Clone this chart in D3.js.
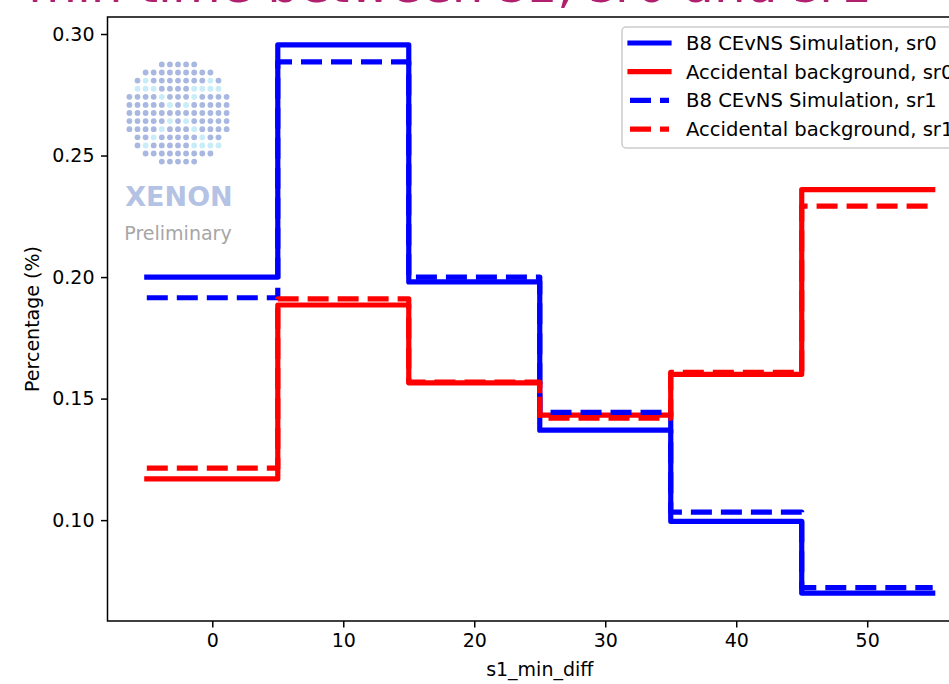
<!DOCTYPE html>
<html>
<head>
<meta charset="utf-8">
<script src="https://cdn.jsdelivr.net/npm/d3@7"></script>
<style>
  body { margin: 0; background: #fff; }
  text { font-family: "DejaVu Sans", sans-serif; }
</style>
</head>
<body>
<svg id="chart" width="949" height="684"></svg>
<script>
'use strict';

// bin edges of s1_min_diff and the four step histograms
var binEdges = [-5, 5, 15, 25, 35, 45, 55];
var xTicks = [0, 10, 20, 30, 40, 50];
var yTicks = [0.10, 0.15, 0.20, 0.25, 0.30];

var b8Sr0 = [0.200, 0.2955, 0.198, 0.137, 0.0995, 0.070];
var accSr0 = [0.117, 0.1885, 0.1565, 0.1432, 0.160, 0.236];
var b8Sr1 = [0.1915, 0.2885, 0.200, 0.1443, 0.1033, 0.0722];
var accSr1 = [0.1214, 0.191, 0.1568, 0.142, 0.1608, 0.2292];

var seriesNames = [
  'B8 CEvNS Simulation, sr0',
  'Accidental background, sr0',
  'B8 CEvNS Simulation, sr1',
  'Accidental background, sr1'
];

var axLeft = 107.5, axRight = 972, axTop = 17, axBottom = 621;
var fontSize = 19;

var svg = d3.select('#chart');

var x = d3.scaleLinear().domain([-8, 58]).range([axLeft, axRight]);
var y = d3.scaleLinear().domain([0.0585, 0.307]).range([axBottom, axTop]);

// cropped title at the very top (only the bottom of the glyphs shows)
svg.append('text')
  .attr('x', 450)
  .attr('y', 2)
  .attr('text-anchor', 'middle')
  .style('font-size', '50px')
  .style('fill', '#b0206e')
  .text('min time between s1, sr0 and sr1');

svg.append('defs').append('clipPath').attr('id', 'plotClip')
  .append('rect')
  .attr('x', axLeft).attr('y', axTop)
  .attr('width', axRight - axLeft).attr('height', axBottom - axTop);

// XENON logo watermark
var logo = svg.append('g').attr('class', 'logo');
var cx = 178, cy = 113, step = 8.1;
for (var i = -6; i <= 6; i++) {
  for (var j = -6; j <= 6; j++) {
    var dx = j * step, dy = i * step;
    if (Math.sqrt(dx * dx + dy * dy) > 52) continue;
    var light = (Math.abs(Math.abs(i) - Math.abs(j)) === 0 && Math.abs(i) >= 1 && Math.abs(i) <= 4) ||
      (i === -3 && j <= -3) || (i === 4 && j >= 2) || (i === -3 && j >= 2);
    logo.append('circle')
      .attr('cx', cx + dx)
      .attr('cy', cy + dy)
      .attr('r', 2.9)
      .style('fill', light ? '#c8ecf8' : '#a9b8e0');
  }
}
logo.append('text')
  .attr('x', 179).attr('y', 206)
  .attr('text-anchor', 'middle')
  .style('font-size', '27px')
  .style('font-weight', 'bold')
  .style('fill', '#b4c2e4')
  .text('XENON');
logo.append('text')
  .attr('x', 178).attr('y', 240)
  .attr('text-anchor', 'middle')
  .style('font-size', '19px')
  .style('fill', '#a6a6a6')
  .text('Preliminary');

// histogram steps
var series = [
  { vals: b8Sr0, color: '#0000ff', dash: null },
  { vals: accSr0, color: '#ff0000', dash: null },
  { vals: b8Sr1, color: '#0000ff', dash: '21,9' },
  { vals: accSr1, color: '#ff0000', dash: '21,9' }
];

var stepLine = d3.line()
  .x(function (d) { return x(d[0]); })
  .y(function (d) { return y(d[1]); })
  .curve(d3.curveStepAfter);

var plot = svg.append('g').attr('clip-path', 'url(#plotClip)');

series.forEach(function (s) {
  var pts = s.vals.map(function (v, k) { return [binEdges[k], v]; });
  pts.push([binEdges[binEdges.length - 1], s.vals[s.vals.length - 1]]);
  plot.append('path')
    .attr('d', stepLine(pts))
    .style('fill', 'none')
    .style('stroke', s.color)
    .style('stroke-width', 5.2)
    .style('stroke-linejoin', 'round')
    .style('stroke-linecap', s.dash ? 'butt' : 'square')
    .style('stroke-dasharray', s.dash);
});

// axes
var xAxis = svg.append('g')
  .attr('transform', 'translate(0,' + axBottom + ')')
  .call(d3.axisBottom(x).tickValues(xTicks).tickSize(6.5).tickPadding(6)
    .tickFormat(d3.format('d')));
var yAxis = svg.append('g')
  .attr('transform', 'translate(' + axLeft + ',0)')
  .call(d3.axisLeft(y).tickValues(yTicks).tickSize(6.5).tickPadding(6.5)
    .tickFormat(d3.format('.2f')));

[xAxis, yAxis].forEach(function (a) {
  a.select('.domain').remove();
  a.selectAll('line').style('stroke', '#000').style('stroke-width', 1.5);
  a.selectAll('text').style('font-size', fontSize + 'px')
    .style('font-family', '"DejaVu Sans", sans-serif').style('fill', '#000');
});

// spines
svg.append('rect')
  .attr('x', axLeft).attr('y', axTop)
  .attr('width', axRight - axLeft).attr('height', axBottom - axTop)
  .style('fill', 'none').style('stroke', '#000').style('stroke-width', 1.5);

// axis labels
svg.append('text')
  .attr('x', (axLeft + axRight) / 2).attr('y', 676)
  .attr('text-anchor', 'middle')
  .style('font-size', fontSize + 'px')
  .text('s1_min_diff');
svg.append('text')
  .attr('transform', 'translate(39,' + ((axTop + axBottom) / 2) + ') rotate(-90)')
  .attr('text-anchor', 'middle')
  .style('font-size', fontSize + 'px')
  .text('Percentage (%)');

// legend
var legend = svg.append('g').attr('transform', 'translate(622,27)');
legend.append('rect')
  .attr('x', 0).attr('y', 0)
  .attr('width', 360).attr('height', 121)
  .attr('rx', 4)
  .style('fill', 'rgba(255,255,255,0.8)')
  .style('stroke', '#cccccc')
  .style('stroke-width', 1.5);

series.forEach(function (s, k) {
  var ry = 16 + k * 28.7;
  legend.append('line')
    .attr('x1', 8).attr('x2', 47)
    .attr('y1', ry).attr('y2', ry)
    .style('stroke', s.color)
    .style('stroke-width', 5.2)
    .style('stroke-linecap', s.dash ? 'butt' : 'square')
    .style('stroke-dasharray', s.dash);
  legend.append('text')
    .attr('x', 64).attr('y', ry)
    .attr('dy', '0.36em')
    .style('font-size', '19.6px')
    .text(seriesNames[k]);
});
</script>
</body>
</html>
